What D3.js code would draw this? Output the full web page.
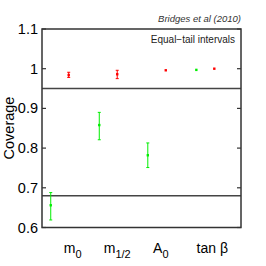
<!DOCTYPE html>
<html lang="en">
<head>
  <meta charset="UTF-8" />
  <title>Coverage</title>
  <script src="https://d3js.org/d3.v7.min.js"></script>
  <style>
    html, body {
      margin: 0;
      padding: 0;
      background: #fff;
      overflow: hidden;
    }
    svg {
      display: block;
      font-family: 'Liberation Sans', Arial, sans-serif;
    }
  </style>
</head>
<body>
  <svg width="266" height="266"></svg>
  <script>
    // data
    const params = ["m", "m", "A", "tan \u03b2"];
    const subs = ["0", "1/2", "0", ""];
    const redMid = [0.984, 0.986, 0.996, 1.0];
    const redLo = [0.978, 0.975, 0.996, 1.0];
    const redHi = [0.991, 0.996, 0.996, 1.0];
    const greenMid = [0.656, 0.858, 0.782, 0.997];
    const greenLo = [0.619, 0.821, 0.751, 0.997];
    const greenHi = [0.688, 0.890, 0.813, 0.997];
    const refLines = [0.95, 0.68];
    const yTicks = [0.6, 0.7, 0.8, 0.9, 1, 1.1];

    const svg = d3.select("svg");
    const plotLeft = 42, plotRight = 241, plotTop = 29, plotBottom = 227.5;
    const frameColor = "#333";
    // small horizontal nudges for the category labels (px)
    const labelNudge = [4, 0, -5, -2];

    const x = d3.scaleLinear().domain([0.45, 4.55]).range([plotLeft, plotRight]);
    const y = d3.scaleLinear().domain([0.6, 1.1]).range([plotBottom, plotTop]);
    const greenShift = -0.37;

    // reference lines
    svg.selectAll("line.ref")
      .data(refLines)
      .enter().append("line")
      .attr("class", "ref")
      .attr("x1", plotLeft).attr("x2", plotRight)
      .attr("y1", d => y(d)).attr("y2", d => y(d))
      .attr("stroke", "#444")
      .attr("stroke-width", 1.5);

    // y ticks, inward on both sides
    yTicks.forEach(t => {
      svg.append("line")
        .attr("x1", plotLeft).attr("x2", plotLeft + 4)
        .attr("y1", y(t)).attr("y2", y(t))
        .attr("stroke", frameColor).attr("stroke-width", 1.2);
      svg.append("line")
        .attr("x1", plotRight - 4).attr("x2", plotRight)
        .attr("y1", y(t)).attr("y2", y(t))
        .attr("stroke", frameColor).attr("stroke-width", 1.2);
      svg.append("text")
        .attr("x", plotLeft - 4)
        .attr("y", y(t) + 5)
        .attr("text-anchor", "end")
        .style("font-size", "14.5px")
        .text(d3.format("~g")(t));
    });

    // frame
    svg.append("rect")
      .attr("x", plotLeft).attr("y", plotTop)
      .attr("width", plotRight - plotLeft).attr("height", plotBottom - plotTop)
      .attr("fill", "none")
      .attr("stroke", frameColor)
      .attr("stroke-width", 1.5);

    function drawSeries(mid, lo, hi, color, shift) {
      const g = svg.append("g");
      mid.forEach((m, i) => {
        const cx = x(i + 1 + shift);
        if (hi[i] - lo[i] > 0.001) {
          g.append("line")
            .attr("x1", cx).attr("x2", cx)
            .attr("y1", y(lo[i])).attr("y2", y(hi[i]))
            .attr("stroke", color).attr("stroke-width", 1);
          [lo[i], hi[i]].forEach(v => {
            g.append("line")
              .attr("x1", cx - 1.5).attr("x2", cx + 1.5)
              .attr("y1", y(v)).attr("y2", y(v))
              .attr("stroke", color).attr("stroke-width", 1);
          });
        }
        g.append("rect")
          .attr("x", cx - 1.2).attr("y", y(m) - 1.2)
          .attr("width", 2.4).attr("height", 2.4)
          .attr("fill", color);
      });
    }

    drawSeries(greenMid, greenLo, greenHi, "#00ee00", greenShift);
    drawSeries(redMid, redLo, redHi, "#ff0000", 0);

    // category labels with subscripts
    params.forEach((p, i) => {
      const t = svg.append("text")
        .attr("x", x(i + 1) + labelNudge[i])
        .attr("y", 253)
        .attr("text-anchor", "middle")
        .style("font-size", "14px");
      t.append("tspan").text(p);
      if (subs[i]) {
        t.append("tspan")
          .attr("dy", 5)
          .style("font-size", "11px")
          .text(subs[i]);
      }
    });

    // y label
    svg.append("text")
      .attr("transform", "translate(14,128) rotate(-90)")
      .attr("text-anchor", "middle")
      .style("font-size", "14.5px")
      .text("Coverage");

    svg.append("text")
      .attr("x", plotRight)
      .attr("y", 22)
      .attr("text-anchor", "end")
      .style("font-size", "9.5px")
      .style("font-style", "italic")
      .style("fill", "#333")
      .text("Bridges et al (2010)");

    svg.append("text")
      .attr("x", plotRight - 6)
      .attr("y", 43)
      .attr("text-anchor", "end")
      .style("font-size", "10px")
      .style("fill", "#222")
      .text("Equal\u2212tail intervals");
  </script>
</body>
</html>
